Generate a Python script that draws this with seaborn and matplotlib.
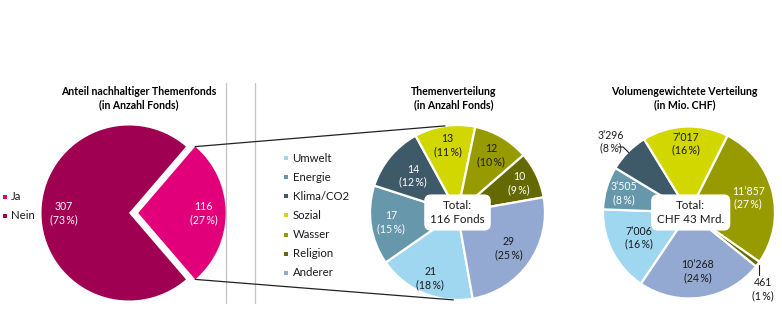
import numpy as np
import matplotlib
matplotlib.use("Agg")
import matplotlib.pyplot as plt
from matplotlib.patches import ConnectionPatch
import seaborn as sns

# ---------------- data ----------------
left_labels = ["Ja", "Nein"]
left_values = [116, 307]

themes = ["Umwelt", "Energie", "Klima/CO2", "Sozial", "Wasser", "Religion", "Anderer"]
count_values = [21, 17, 14, 13, 12, 10, 29]
volume_values = [7006, 3505, 3296, 7017, 11857, 461, 10268]

left_title = "Anteil nachhaltiger Themenfonds\n(in Anzahl Fonds)"
mid_title = "Themenverteilung\n(in Anzahl Fonds)"
right_title = "Volumengewichtete Verteilung\n(in Mio. CHF)"
mid_total = "Total:\n116 Fonds"
right_total = "Total:\nCHF 43 Mrd."

# ---------------- style ----------------
sns.set_theme(style="white")
plt.rcParams["font.family"] = ["Lato", "DejaVu Sans"]

left_colors = ["#E2007A", "#A00052"]
theme_colors = sns.color_palette(["#A0D7F0", "#6697AB", "#3E5A69", "#D2D700",
                                  "#979B00", "#646A00", "#93A9D2"])
DARK = "#1a1a1a"
FS = 7.6
LFS = 8.2

W, H = 782, 336
fig = plt.figure(figsize=(W / 100, H / 100), dpi=100)
fig.patch.set_facecolor("white")

# overlay axes in pixel coordinates (legends, separators)
ov = fig.add_axes([0, 0, 1, 1])
ov.set_xlim(0, W)
ov.set_ylim(H, 0)
ov.axis("off")
ov.patch.set_visible(False)


def pie_axes(cx, cy, r, lim=1.25):
    side = 2 * lim * r
    ax = fig.add_axes([(cx - side / 2) / W, (H - cy - side / 2) / H, side / W, side / H])
    return ax


def finish(ax, lim=1.25):
    ax.set_xlim(-lim, lim)
    ax.set_ylim(-lim, lim)
    ax.axis("off")


def pct(v, tot):
    return f"({int(round(100 * v / tot))}\u2009%)"


def polar(w, d):
    t = np.deg2rad((w.theta1 + w.theta2) / 2)
    cx, cy = w.center
    return cx + d * np.cos(t), cy + d * np.sin(t)


# ---------------- left pie ----------------
axL = pie_axes(129, 213, 87.5)
totL = sum(left_values)
ja_half = 360 * left_values[0] / totL / 2
wL, _ = axL.pie(left_values, colors=left_colors, startangle=ja_half, counterclock=False,
                explode=[0.105, 0], wedgeprops=dict(linewidth=0))
finish(axL)
for w, v in zip(wL, left_values):
    x, y = polar(w, 0.75)
    axL.text(x, y, f"{v}\n{pct(v, totL)}", ha="center", va="center", color="white",
             fontsize=FS, linespacing=1.2)

# ---------------- middle pie ----------------
axM = pie_axes(457.5, 212.5, 87.5)
totM = sum(count_values)
wM, _ = axM.pie(count_values, colors=theme_colors, startangle=280, counterclock=False,
                wedgeprops=dict(edgecolor="white", linewidth=1.6))
finish(axM)
mid_dist = [0.81, 0.77, 0.66, 0.78, 0.76, 0.78, 0.71]
mid_tc = [DARK, "white", "white", DARK, DARK, "white", DARK]
for w, v, d, c in zip(wM, count_values, mid_dist, mid_tc):
    x, y = polar(w, d)
    axM.text(x, y, f"{v}\n{pct(v, totM)}", ha="center", va="center", color=c,
             fontsize=FS, linespacing=1.2)
axM.text(0, 0, mid_total, ha="center", va="center", color=DARK, fontsize=FS + 0.8,
         linespacing=1.25,
         bbox=dict(boxstyle="round,pad=0.45,rounding_size=0.5", fc="white", ec="white"))

# ---------------- right pie ----------------
axR = pie_axes(689, 212.5, 86)
totR = sum(volume_values)
wR, _ = axR.pie(volume_values, colors=theme_colors, startangle=236, counterclock=False,
                wedgeprops=dict(edgecolor="white", linewidth=1.6))
finish(axR)
right_dist = [0.65, 0.79, None, 0.80, 0.71, None, 0.69]
right_tc = [DARK, "white", DARK, DARK, "white", DARK, DARK]


def fmt_vol(v):
    return f"{v:,}".replace(",", "\u2019")


for w, v, d, c in zip(wR, volume_values, right_dist, right_tc):
    if d is None:
        continue
    x, y = polar(w, d)
    axR.text(x, y, f"{fmt_vol(v)}\n{pct(v, totR)}", ha="center", va="center", color=c,
             fontsize=FS, linespacing=1.2)

# outside label: Klima/CO2
wk = wR[2]
x0, y0 = polar(wk, 0.99)
x1, y1 = polar(wk, 1.08)
axR.plot([x0, x1, x1 - 0.06], [y0, y1, y1], color=DARK, lw=0.8, clip_on=False)
axR.text(x1 - 0.14, y1 + 0.065, f"{fmt_vol(volume_values[2])}\n{pct(volume_values[2], totR)}",
         ha="center", va="center", color=DARK, fontsize=FS, linespacing=1.2)
# outside label: Religion
wr = wR[5]
x0, y0 = polar(wr, 1.0)
axR.plot([x0 + 0.015, x0 + 0.015], [y0 - 0.01, y0 - 0.13], color=DARK, lw=0.8, clip_on=False)
axR.text(x0 + 0.06, y0 - 0.29, f"{fmt_vol(volume_values[5])}\n{pct(volume_values[5], totR)}",
         ha="center", va="center", color=DARK, fontsize=FS, linespacing=1.2)

axR.text(0.02, 0, right_total, ha="center", va="center", color=DARK, fontsize=FS + 0.8,
         linespacing=1.25,
         bbox=dict(boxstyle="round,pad=0.45,rounding_size=0.5", fc="white", ec="white"))

# ---------------- connectors ----------------
ja = wL[0]
cxj, cyj = ja.center
for ang_l, ang_m in [(ja.theta2, 98.2), (ja.theta1, 267.3)]:
    a = np.deg2rad(ang_l)
    b = np.deg2rad(ang_m)
    con = ConnectionPatch(xyA=(cxj + np.cos(a), cyj + np.sin(a)), coordsA=axL.transData,
                          xyB=(np.cos(b), np.sin(b)), coordsB=axM.transData,
                          color="#222222", lw=0.9)
    fig.add_artist(con)

# ---------------- separators ----------------
for xs in [226, 255.3]:
    ov.plot([xs, xs], [82.7, 303], color="#c4c4c4", lw=0.9)

# ---------------- legends ----------------
for i, (lab, col) in enumerate(zip(left_labels, left_colors)):
    y = 196.7 + i * 19
    ov.scatter([5.3], [y], marker="s", s=7, color=col, linewidths=0)
    ov.text(11, y, lab, ha="left", va="center", fontsize=LFS, color=DARK)

for i, (lab, col) in enumerate(zip(themes, theme_colors)):
    y = 158.3 + i * 19.05
    ov.scatter([285.7], [y], marker="s", s=8, color=col, linewidths=0)
    ov.text(292.5, y, lab, ha="left", va="center", fontsize=LFS, color=DARK)

# ---------------- titles ----------------
for xc, t in [(138.3, left_title), (453.8, mid_title), (684.7, right_title)]:
    fig.text(xc / W, 1 - 98 / H, t, ha="center", va="center", fontsize=FS,
             fontweight="bold", color="black", linespacing=1.2)

fig.savefig("out.png", dpi=100)
